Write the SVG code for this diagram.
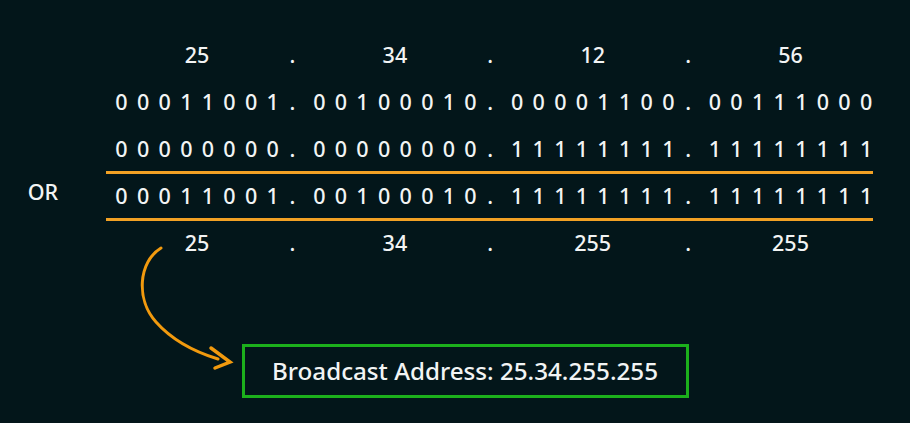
<svg xmlns="http://www.w3.org/2000/svg" width="910" height="423" viewBox="0 0 910 423">
<style>
text{font-family:"Noto Sans","Open Sans",sans-serif;fill:#f2f4f4;text-anchor:middle;font-weight:500}
.bin{font-size:21.5px}
.dec{font-size:21.5px}
.rule{stroke:#f2a124;stroke-width:3}
</style>
<rect width="910" height="423" fill="#03161a"/>
<g id="top-decimal">
<text class="dec" y="63" x="197.1">25</text>
<text class="dec" y="63" x="292.5">.</text>
<text class="dec" y="63" x="394.9">34</text>
<text class="dec" y="63" x="490.3">.</text>
<text class="dec" y="63" x="592.7">12</text>
<text class="dec" y="63" x="688.1">.</text>
<text class="dec" y="63" x="790.5">56</text>
</g>
<g id="ip-binary">
<text class="bin" y="110" x="121.5 143.1 164.7 186.3 207.9 229.5 251.1 272.7 292.5 319.3 340.9 362.5 384.1 405.7 427.3 448.9 470.5 490.3 517.1 538.7 560.3 581.9 603.5 625.1 646.7 668.3 688.1 714.9 736.5 758.1 779.7 801.3 822.9 844.5 866.1">00011001.00100010.00001100.00111000</text>
</g>
<g id="mask-binary">
<text class="bin" y="157" x="121.5 143.1 164.7 186.3 207.9 229.5 251.1 272.7 292.5 319.3 340.9 362.5 384.1 405.7 427.3 448.9 470.5 490.3 517.1 538.7 560.3 581.9 603.5 625.1 646.7 668.3 688.1 714.9 736.5 758.1 779.7 801.3 822.9 844.5 866.1">00000000.00000000.11111111.11111111</text>
</g>
<g id="or-label">
<text class="dec" x="43" y="200">OR</text>
</g>
<g id="rules">
<line class="rule" x1="106" y1="172.5" x2="873" y2="172.5"/>
<line class="rule" x1="106" y1="219.5" x2="873" y2="219.5"/>
</g>
<g id="result-binary">
<text class="bin" y="204" x="121.5 143.1 164.7 186.3 207.9 229.5 251.1 272.7 292.5 319.3 340.9 362.5 384.1 405.7 427.3 448.9 470.5 490.3 517.1 538.7 560.3 581.9 603.5 625.1 646.7 668.3 688.1 714.9 736.5 758.1 779.7 801.3 822.9 844.5 866.1">00011001.00100010.11111111.11111111</text>
</g>
<g id="bottom-decimal">
<text class="dec" y="251" x="197.1">25</text>
<text class="dec" y="251" x="292.5">.</text>
<text class="dec" y="251" x="394.9">34</text>
<text class="dec" y="251" x="490.3">.</text>
<text class="dec" y="251" x="592.7">255</text>
<text class="dec" y="251" x="688.1">.</text>
<text class="dec" y="251" x="790.5">255</text>
</g>
<g id="connectors">
<path d="M161 248 C138 262 136 300 156 322 C172 340 195 352 218 359" fill="none" stroke="#f29a0e" stroke-width="3" stroke-linecap="round"/>
<path d="M211 348 L230 362 L215 368" fill="none" stroke="#f29a0e" stroke-width="3.5" stroke-linecap="round" stroke-linejoin="miter"/>
</g>
<g id="broadcast-box">
<rect x="243.5" y="345.5" width="444" height="51" fill="none" stroke="#1cb01c" stroke-width="3"/>
<text x="465" y="380" style="font-size:24px" textLength="386" lengthAdjust="spacingAndGlyphs">Broadcast Address: 25.34.255.255</text>
</g>
</svg>
